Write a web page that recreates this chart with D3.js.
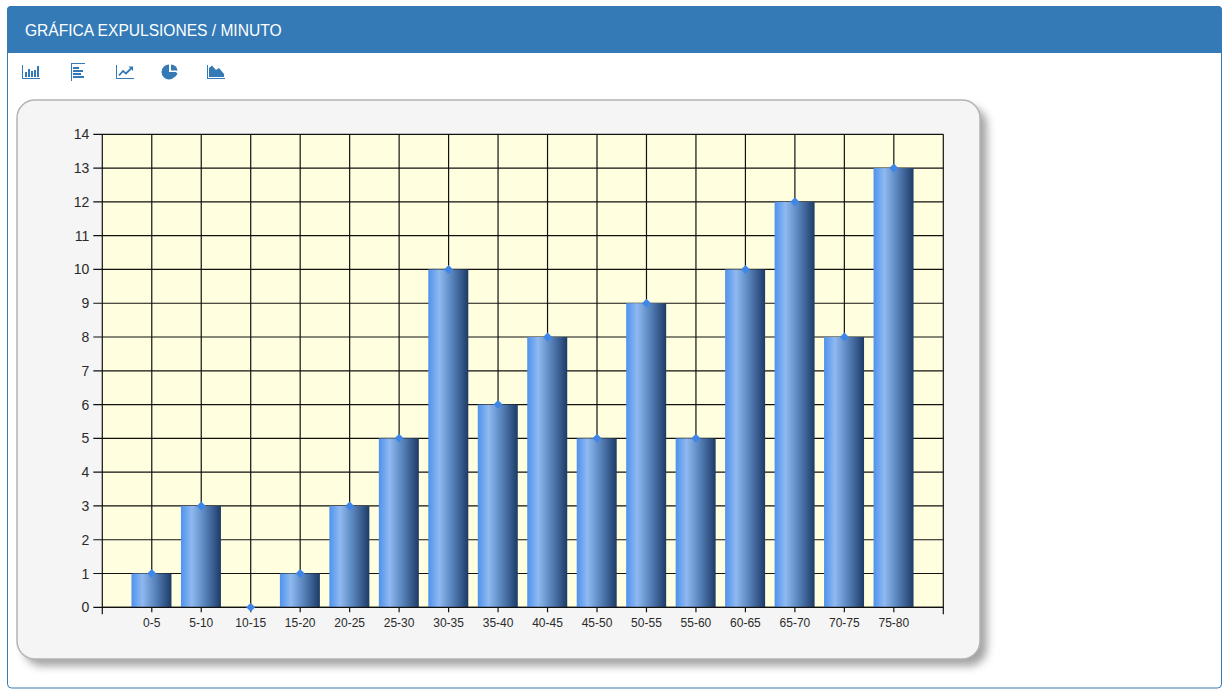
<!DOCTYPE html>
<html><head><meta charset="utf-8">
<script src="https://cdn.jsdelivr.net/npm/d3@7/dist/d3.min.js"></script>
<style>html,body{margin:0;padding:0;background:#fff;overflow:hidden}svg{display:block}</style>
</head><body><svg id="c" width="1227" height="695"></svg>
<script>
const categories=["0-5","5-10","10-15","15-20","20-25","25-30","30-35","35-40","40-45","45-50","50-55","55-60","60-65","65-70","70-75","75-80"];
const values=[1,3,0,1,3,5,10,6,8,5,9,5,10,12,8,13];
const yTicks=d3.range(0,15);
const title="GRÁFICA EXPULSIONES / MINUTO";
const fontUI="'Liberation Sans',Arial,sans-serif";
const blue="#337ab7";

const svg=d3.select("#c");
const defs=svg.append("defs");
const g=defs.append("linearGradient").attr("id","bar");
[[0,"#4f92ee"],[.27,"#8fb9f0"],[.55,"#5f8bc4"],[.8,"#3a5f92"],[1,"#1d3a64"]].forEach(([o,c])=>g.append("stop").attr("offset",o).attr("stop-color",c));
const f=defs.append("filter").attr("id","sh").attr("x","-5%").attr("y","-5%").attr("width","110%").attr("height","110%");
f.append("feGaussianBlur").attr("stdDeviation",4);

// Panel
svg.append("rect").attr("x",7.5).attr("y",6.5).attr("width",1214).attr("height",681.5).attr("rx",4).attr("fill","#fff").attr("stroke",blue);
svg.append("path").attr("d","M7,53V10a4,4 0 0 1 4,-4H1218a4,4 0 0 1 4,4V53Z").attr("fill",blue);
svg.append("text").attr("x",25).attr("y",36).attr("fill","#fff").attr("font-family",fontUI).attr("font-size",15.6).attr("letter-spacing",-0.02).text(title);

// Toolbar icons
const ic=svg.append("g").attr("fill",blue).attr("stroke","none");
const axisIcon=(x,y,w,h)=>ic.append("path").attr("d",`M${x},${y}h1v${h-1}h${w-1}v1h-${w}Z`);
axisIcon(22,65,18,14);
[[25,72,2,5],[28,69,2,8],[31,71,2,6],[34,70,2,7],[37,66,2,11]].forEach(r=>ic.append("rect").attr("x",r[0]).attr("y",r[1]).attr("width",r[2]).attr("height",r[3]));
ic.append("rect").attr("x",71).attr("y",63).attr("width",1).attr("height",18);
[[72,63,13,1],[73,67,6,2],[73,70,10,2],[73,73,8,2],[73,76,11,2]].forEach(r=>ic.append("rect").attr("x",r[0]).attr("y",r[1]).attr("width",r[2]).attr("height",r[3]));
axisIcon(116,65,18,14);
ic.append("path").attr("d","M119,75.5L123,71L126,73.5L131,68.5").attr("fill","none").attr("stroke",blue).attr("stroke-width",1.8);
ic.append("path").attr("d","M128.5,66.5H133V71Z");
ic.append("path").attr("d","M169,64.5A7.5,7.5 0 1 0 176.5,72H169Z");
ic.append("path").attr("d","M171,64.5A6.5,6.5 0 0 1 177.5,70.5H171Z");
ic.append("path").attr("d","M171.5,73H177.5A7,7 0 0 1 175,77Z");
axisIcon(207,65,18,14);
ic.append("path").attr("d","M209,77V68L212,65.5L216,70L219,68L224,74V77Z");

// Chart frame
const fr={x:17,y:100,w:963,h:559,r:18};
svg.append("rect").attr("x",fr.x+7).attr("y",fr.y+7).attr("width",fr.w).attr("height",fr.h).attr("rx",fr.r).attr("fill","#666").attr("opacity",.6).attr("filter","url(#sh)");
svg.append("rect").attr("x",fr.x).attr("y",fr.y).attr("width",fr.w).attr("height",fr.h).attr("rx",fr.r).attr("fill","#f5f5f5").attr("stroke","#b4b4b4").attr("stroke-width",1.5);

// Plot
const L=102.3,R=943.3,T=134.3,B=607.3;
const x=d3.scaleLinear().domain([0,categories.length+1]).range([L,R]);
const y=d3.scaleLinear().domain([0,14]).range([B,T]);
const barW=40;
svg.append("rect").attr("x",L).attr("y",T).attr("width",R-L).attr("height",B-T).attr("fill","#ffffe0");
const gridG=svg.append("g").attr("stroke","#111").attr("stroke-width",1.2);
yTicks.forEach(t=>gridG.append("line").attr("x1",L-9).attr("x2",R).attr("y1",y(t)).attr("y2",y(t)));
d3.range(0,categories.length+2).forEach(i=>gridG.append("line").attr("x1",x(i)).attr("x2",x(i)).attr("y1",T).attr("y2",B+(i>0&&i<=categories.length?5:7)));

// Bars
svg.append("g").selectAll("rect").data(values).join("rect")
 .attr("x",(d,i)=>x(i+1)-barW/2-0.3).attr("y",d=>y(d)).attr("width",barW).attr("height",d=>y(0)-y(d)).attr("fill","url(#bar)");
svg.append("line").attr("x1",L).attr("x2",R).attr("y1",B).attr("y2",B).attr("stroke","#111").attr("stroke-width",1.2);
// Markers
svg.append("g").selectAll("path").data(values).join("path")
 .attr("d",(d,i)=>{const cx=x(i+1),cy=y(d);return `M${cx},${cy-4.5}L${cx+4.5},${cy}L${cx},${cy+4.5}L${cx-4.5},${cy}Z`})
 .attr("fill","#3f86e6");

// Labels
const txt="#2a2a2a";
svg.append("g").selectAll("text").data(yTicks).join("text")
 .attr("x",L-13).attr("y",d=>y(d)+5).attr("text-anchor","end").attr("font-family",fontUI).attr("font-size",14).attr("fill",txt).text(d=>d);
svg.append("g").selectAll("text").data(categories).join("text")
 .attr("x",(d,i)=>x(i+1)).attr("y",627).attr("text-anchor","middle").attr("font-family",fontUI).attr("font-size",12).attr("fill",txt).text(d=>d);
</script></body></html>
